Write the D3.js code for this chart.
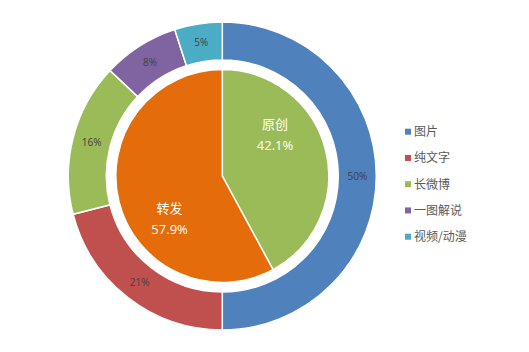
<!DOCTYPE html>
<html>
<head>
<meta charset="utf-8">
<script src="https://cdn.jsdelivr.net/npm/d3@7"></script>
<style>
  html, body { margin: 0; padding: 0; background: #fff; }
  svg { display: block; }
</style>
</head>
<body>
<svg id="chart" width="529" height="352"></svg>
<script>
// Outer ring (content type)
const outerCategories = ["图片", "纯文字", "长微博", "一图解说", "视频/动漫"];
const outerValues = [50, 21, 16, 8, 5];
const outerLabels = ["50%", "21%", "16%", "8%", "5%"];
const outerColors = ["#4F81BD", "#C0504D", "#9BBB59", "#8064A2", "#4BACC6"];

// Inner pie (original vs. repost)
const innerCategories = ["原创", "转发"];
const innerValues = [42.1, 57.9];
const innerLabels = ["42.1%", "57.9%"];
const innerColors = ["#9BBB59", "#E46C0A"];

const svg = d3.select("#chart");
const cx = 222.3, cy = 176;
const rOuter = 154, rRingInner = 116, rPie = 106.5;

const g = svg.append("g").attr("transform", `translate(${cx},${cy})`);
const pie = d3.pie().sort(null).value(d => d);

// Outer ring
const outerArc = d3.arc().innerRadius(rRingInner).outerRadius(rOuter);
const outerData = pie(outerValues);
g.selectAll("path.outer").data(outerData).enter().append("path")
  .attr("class", "outer")
  .attr("d", outerArc)
  .attr("fill", (d, i) => outerColors[i])
  .attr("stroke", "#fff").attr("stroke-width", 1.5);

g.selectAll("text.outer").data(outerData).enter().append("text")
  .attr("class", "outer")
  .attr("transform", d => `translate(${outerArc.centroid(d)})`)
  .attr("text-anchor", "middle").attr("dy", "0.35em")
  .attr("font-family", "'Open Sans', 'Liberation Sans', sans-serif")
  .attr("font-size", 10).attr("fill", "#404040")
  .text((d, i) => outerLabels[i]);

// Inner pie
const innerArc = d3.arc().innerRadius(0).outerRadius(rPie);
const innerData = pie(innerValues);
g.selectAll("path.inner").data(innerData).enter().append("path")
  .attr("class", "inner")
  .attr("d", innerArc)
  .attr("fill", (d, i) => innerColors[i])
  .attr("stroke", "#fff").attr("stroke-width", 1.5);

const labelR = rPie * 0.63;
const labelShift = 24 * Math.PI / 180;
const innerLbl = g.selectAll("g.innerlbl").data(innerData).enter().append("g")
  .attr("class", "innerlbl")
  .attr("transform", d => {
    const a = (d.startAngle + d.endAngle) / 2 - labelShift;
    return `translate(${labelR * Math.sin(a)},${-labelR * Math.cos(a)})`;
  });
innerLbl.append("text")
  .attr("text-anchor", "middle").attr("y", -5)
  .attr("font-family", "'Noto Sans CJK SC', sans-serif")
  .attr("font-size", 13).attr("fill", "#fff")
  .text((d, i) => innerCategories[i]);
innerLbl.append("text")
  .attr("text-anchor", "middle").attr("y", 16)
  .attr("font-family", "'Open Sans', 'Liberation Sans', sans-serif")
  .attr("font-size", 13).attr("fill", "#fff")
  .text((d, i) => innerLabels[i]);

// Legend
const legendY = d3.scalePoint().domain(outerCategories).range([131.7, 236.7]);
const legend = svg.append("g").selectAll("g").data(outerCategories).enter().append("g")
  .attr("transform", d => `translate(405,${legendY(d)})`);
legend.append("rect")
  .attr("x", 0).attr("y", -3).attr("width", 6).attr("height", 6)
  .attr("fill", (d, i) => outerColors[i]);
legend.append("text")
  .attr("x", 9).attr("dy", "0.36em")
  .attr("font-family", "'Noto Sans CJK SC', sans-serif")
  .attr("font-size", 12).attr("fill", "#595959")
  .text(d => d);
</script>
</body>
</html>
